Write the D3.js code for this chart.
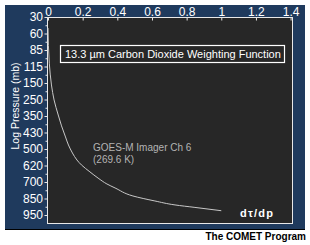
<!DOCTYPE html>
<html>
<head>
<meta charset="utf-8">
<script src="https://cdn.jsdelivr.net/npm/d3@7"></script>
<style>
  body { margin: 0; background: #fff; }
  svg { display: block; }
  .tick text { font-family: "Liberation Sans Narrow", "Arial Narrow", "Liberation Sans", Arial, sans-serif; font-stretch: condensed; }
</style>
</head>
<body>
<script>
// y axis labels (pressure, mb) - drawn evenly spaced
var pressureTicks = [30, 60, 85, 115, 150, 250, 350, 430, 500, 620, 700, 850, 950];
var weightTicks = [0, 0.2, 0.4, 0.6, 0.8, 1, 1.2, 1.4];

// weighting function curve
var curvePressure = [50, 109, 162, 253, 344, 398, 449, 483, 529, 580, 616, 651, 681, 718, 754, 827, 865, 889, 904, 924];
var curveWeight   = [0, 0.0075, 0.02, 0.035, 0.059, 0.078, 0.101, 0.118, 0.141, 0.167, 0.193, 0.242, 0.289, 0.34, 0.387, 0.49, 0.617, 0.733, 0.848, 1.0];

var W = 310, H = 245;
var plot = { left: 47.5, top: 17.5, right: 292.5, bottom: 223.5 };

var svg = d3.select("body").append("svg")
    .attr("width", W)
    .attr("height", H);

// navy panel
svg.append("rect")
    .attr("x", 5).attr("y", 5)
    .attr("width", 300).attr("height", 224)
    .attr("fill", "#1f3a5d");
svg.append("line")
    .attr("x1", 5).attr("x2", 305)
    .attr("y1", 229.5).attr("y2", 229.5)
    .attr("stroke", "#000");

// plot area
svg.append("rect")
    .attr("x", plot.left).attr("y", plot.top)
    .attr("width", plot.right - plot.left)
    .attr("height", plot.bottom - plot.top)
    .attr("fill", "#272727")
    .attr("stroke", "#e8e8e8")
    .attr("stroke-width", 1);

var x = d3.scaleLinear()
    .domain([0, 1.4])
    .range([48, 290.6]);

// evenly spaced pressure labels -> piecewise linear scale
var y = d3.scaleLinear()
    .domain(pressureTicks)
    .range(pressureTicks.map(function (d, i) { return 17 + i * 16.5; }));

svg.append("g")
    .attr("transform", "translate(0," + plot.top + ")")
    .call(d3.axisTop(x).tickValues(weightTicks).tickFormat(d3.format("~g")).tickSize(-3).tickPadding(1.5));

svg.append("g")
    .attr("transform", "translate(" + plot.left + ",0)")
    .call(d3.axisLeft(y).tickValues(pressureTicks).tickSize(3).tickPadding(1.5));

// minor ticks halfway between labels
var minor = pressureTicks.slice(1).map(function (d, i) { return (d + pressureTicks[i]) / 2; });
svg.append("g")
    .attr("transform", "translate(" + plot.left + ",0)")
    .call(d3.axisLeft(y).tickValues(minor).tickSize(2).tickFormat(""));

svg.selectAll(".domain").remove();
svg.selectAll(".tick line").attr("stroke", "#e8e8e8");
svg.selectAll(".tick text")
    .attr("fill", "#fff")
    .attr("font-size", 12);

// axis title
svg.append("text")
    .attr("transform", "translate(19,106) rotate(-90)")
    .attr("text-anchor", "middle")
    .attr("font-family", "Liberation Sans, Arial, sans-serif")
    .attr("font-size", 10.5)
    .attr("fill", "#fff")
    .text("Log Pressure (mb)");

// title box
svg.append("rect")
    .attr("x", 60.5).attr("y", 45.5)
    .attr("width", 224).attr("height", 17)
    .attr("fill", "#272727")
    .attr("stroke", "#fff")
    .attr("stroke-width", 1.2);
svg.append("text")
    .attr("x", 65).attr("y", 58)
    .attr("font-family", "Liberation Sans, Arial, sans-serif")
    .attr("font-size", 11)
    .attr("fill", "#fff")
    .text("13.3 µm Carbon Dioxide Weighting Function");

// curve
var pts = curvePressure.map(function (p, i) { return [curveWeight[i], p]; });
svg.append("path")
    .datum(pts)
    .attr("fill", "none")
    .attr("stroke", "#c8c8c8")
    .attr("stroke-width", 1)
    .attr("d", d3.line()
        .x(function (d) { return x(d[0]); })
        .y(function (d) { return y(d[1]); })
        .curve(d3.curveMonotoneY));

// channel label
var lab = svg.append("text")
    .attr("font-family", "Liberation Sans, Arial, sans-serif")
    .attr("font-size", 10)
    .attr("fill", "#b4b4b4");
lab.append("tspan").attr("x", 93).attr("y", 151).text("GOES-M Imager Ch 6");
lab.append("tspan").attr("x", 93).attr("y", 163).text("(269.6 K)");

svg.append("text")
    .attr("x", 240).attr("y", 216.5)
    .attr("font-family", "Liberation Sans, Arial, sans-serif")
    .attr("font-size", 11)
    .attr("font-weight", "bold")
    .attr("letter-spacing", 1.2)
    .attr("fill", "#fff")
    .text("dτ/dp");

svg.append("text")
    .attr("x", 306).attr("y", 240)
    .attr("text-anchor", "end")
    .attr("font-family", "Liberation Sans, Arial, sans-serif")
    .attr("font-size", 10)
    .attr("font-weight", "bold")
    .attr("fill", "#000")
    .text("The COMET Program");
</script>
</body>
</html>
